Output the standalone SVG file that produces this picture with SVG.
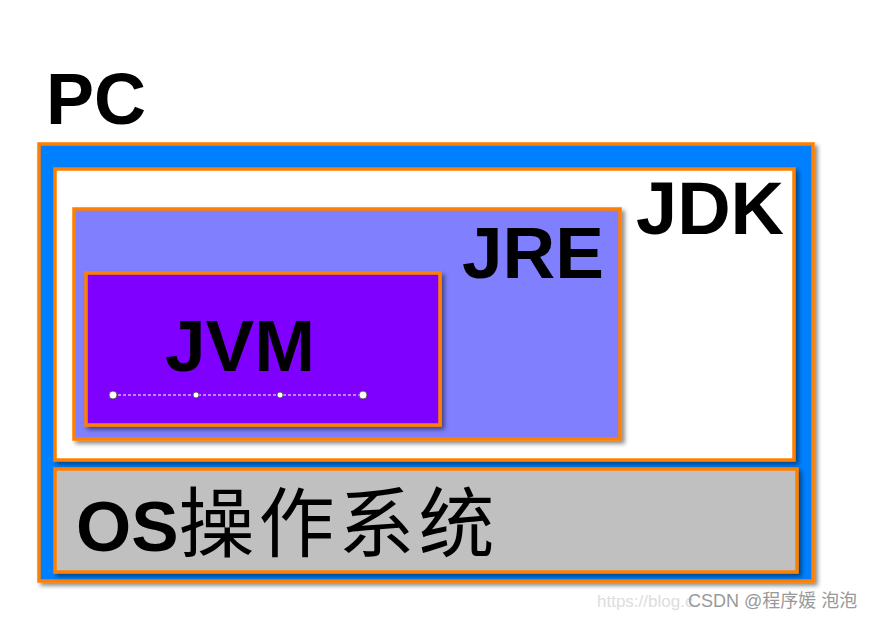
<svg xmlns="http://www.w3.org/2000/svg" width="880" height="618" viewBox="0 0 880 618">
<defs>
<filter id="sh" x="-5%" y="-5%" width="115%" height="115%"><feDropShadow dx="3" dy="3" stdDeviation="2" flood-color="#000" flood-opacity="0.45"/></filter>
<style>
.b{stroke:#ff8000;stroke-width:3.5;filter:url(#sh)}
.t{font-family:"Liberation Sans",Arial,sans-serif;font-weight:bold;fill:#000}
</style>
</defs>
<rect width="880" height="618" fill="#fff"/>
<text class="t" x="46" y="124" font-size="72">PC</text>
<g id="pc"><rect class="b" x="39" y="144" width="774" height="437" fill="#0080ff"/></g>
<g id="jdk"><rect class="b" x="55" y="169" width="739" height="291" fill="#fff"/>
<text class="t" x="636" y="234" font-size="74">JDK</text></g>
<g id="jre"><rect class="b" x="74" y="209" width="546" height="230" fill="#8080ff"/>
<text class="t" x="462" y="278" font-size="73">JRE</text></g>
<g id="jvm"><rect class="b" x="86" y="273" width="354" height="152" fill="#8000ff"/>
<text class="t" x="165" y="371" font-size="73">JVM</text></g>
<g id="connectors">
<line x1="113" y1="395" x2="363" y2="395" stroke="#fff" stroke-width="1" stroke-dasharray="3,2"/>
<g fill="#fff" stroke="#444" stroke-width="0.8">
<circle cx="113" cy="395" r="4"/><circle cx="196" cy="395" r="3"/><circle cx="280" cy="395" r="3"/><circle cx="363" cy="395" r="4"/></g>
</g>
<g id="os"><rect class="b" x="55" y="469" width="742" height="103" fill="#c0c0c0"/>
<text class="t" x="76" y="551" font-size="71">OS<tspan font-weight="normal" font-size="76" letter-spacing="4" font-family="'Noto Sans CJK SC',sans-serif">操作系统</tspan></text></g>
<text x="597" y="607" font-size="17" font-family="'Liberation Sans',sans-serif" fill="#ddd">https://blog.c</text>
<text x="688" y="607" font-size="18" font-family="'Liberation Sans','Noto Sans CJK SC',sans-serif" fill="#999">CSDN @程序媛 泡泡</text>
</svg>
